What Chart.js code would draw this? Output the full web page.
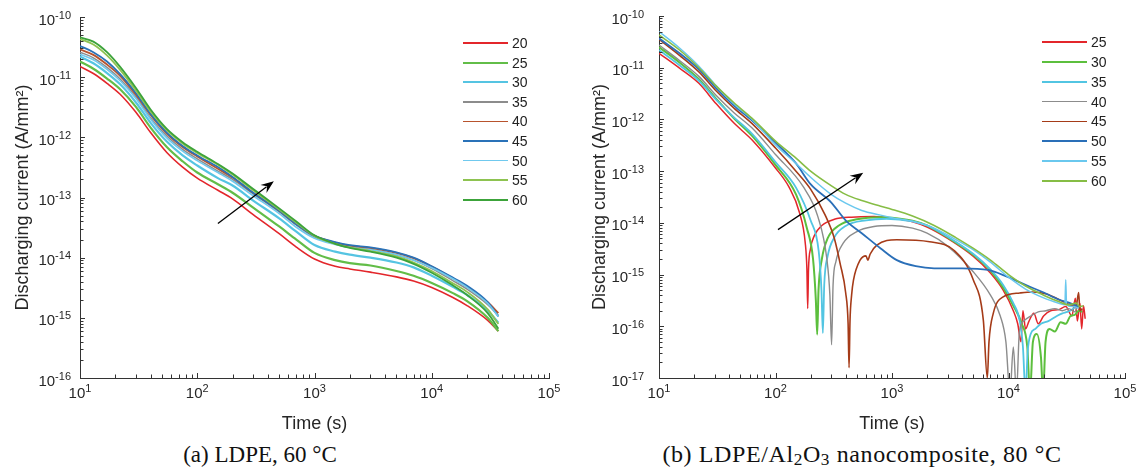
<!DOCTYPE html>
<html>
<head>
<meta charset="utf-8">
<script src="https://cdn.jsdelivr.net/npm/chart.js@4.4.1/dist/chart.umd.min.js"></script>
<style>
  html, body { margin: 0; padding: 0; background: #fff; }
  #fig { position: relative; width: 1141px; height: 472px; overflow: hidden; background: #fff; }
  canvas { position: absolute; top: 0; }
  .legend { position: absolute; font-family: 'Liberation Sans', Arial, sans-serif; font-size: 14px; color: #222; }
  .legend .row { position: absolute; left: 0; height: 16px; line-height: 16px; white-space: nowrap; }
  .legend .sw { position: absolute; left: 0; width: 45px; }
  .legend .tx { position: absolute; left: 49px; top: 0; }
  .caption { position: absolute; text-align: center; font-family: 'Liberation Serif', 'Times New Roman', serif; line-height: 24px; color: #111; white-space: nowrap; }
  .caption sub { font-size: 0.72em; vertical-align: -0.2em; line-height: 0; }
</style>
</head>
<body>
<div id="fig">
  <canvas id="chartA" width="570" height="440" style="left:0"></canvas>
  <canvas id="chartB" width="571" height="440" style="left:570px"></canvas>
  <div class="legend" id="legendA"></div>
  <div class="legend" id="legendB"></div>
  <div class="caption" style="left:0;width:520px;top:443px;font-size:23px">(a) LDPE, 60 °C</div>
  <div class="caption" style="left:600px;width:524px;top:442px;font-size:24px;letter-spacing:0.6px">(b) LDPE/Al<sub>2</sub>O<sub>3</sub> nanocomposite, 80 °C</div>
</div>
<script>
// ============================================================
// Courants de décharge — (a) LDPE 60 °C, (b) LDPE/Al2O3 80 °C
// ============================================================

const FONT = "'Liberation Sans', Arial, Helvetica, sans-serif";

// Axes (exposants des décades)
const timeTickExp = [1, 2, 3, 4, 5];
const ldpeTickExp = [-16, -15, -14, -13, -12, -11, -10];
const nanoTickExp = [-17, -16, -15, -14, -13, -12, -11, -10];

// ---- (a) LDPE : temps communs (s) et courants (A/mm²) ----
const ldpeTime = [10, 13, 17, 22, 30, 40, 55, 75, 100, 150, 200, 300, 500, 700, 1000, 1500, 2000, 3000, 5000, 7000, 10000, 15000, 20000, 30000, 37000];
const ldpeLabels = ['20', '25', '30', '35', '40', '45', '50', '55', '60'];
const ldpeColors = ['#e3262b', '#62bd48', '#55c4e2', '#8c8c8c', '#b8532d', '#2a72b8', '#70c9ee', '#8ec351', '#3ca33a'];
const ldpeWidths = [1.6, 2.2, 2.2, 1.5, 1.8, 1.8, 1.6, 1.8, 1.8];

const ldpe20 = [1.51e-11, 1.15e-11, 7.9e-12, 5.2e-12, 2.6e-12, 1.2e-12, 5.6e-13, 3.2e-13, 2.1e-13, 1.32e-13, 9.5e-14, 5.2e-14, 2.5e-14, 1.5e-14, 9.5e-15, 7.2e-15, 6.5e-15, 5.75e-15, 4.8e-15, 4.1e-15, 3.2e-15, 2.2e-15, 1.6e-15, 9.1e-16, 6.0e-16];
const ldpe25 = [1.82e-11, 1.38e-11, 9.5e-12, 6.3e-12, 3.2e-12, 1.45e-12, 6.9e-13, 4.0e-13, 2.6e-13, 1.66e-13, 1.2e-13, 6.8e-14, 3.3e-14, 2.0e-14, 1.2e-14, 9.1e-15, 8.1e-15, 7.4e-15, 6.0e-15, 5.0e-15, 3.8e-15, 2.6e-15, 1.9e-15, 1.0e-15, 6.0e-16];
const ldpe30 = [2.2e-11, 1.7e-11, 1.17e-11, 7.6e-12, 3.8e-12, 1.74e-12, 8.5e-13, 5.0e-13, 3.4e-13, 2.1e-13, 1.58e-13, 8.9e-14, 4.5e-14, 2.7e-14, 1.62e-14, 1.26e-14, 1.12e-14, 1.0e-14, 8.3e-15, 6.9e-15, 5.0e-15, 3.3e-15, 2.4e-15, 1.32e-15, 8.3e-16];
const ldpe35 = [2.6e-11, 2.1e-11, 1.45e-11, 9.3e-12, 4.7e-12, 2.1e-12, 1.05e-12, 6.3e-13, 4.4e-13, 2.75e-13, 2.0e-13, 1.15e-13, 5.75e-14, 3.5e-14, 2.2e-14, 1.7e-14, 1.5e-14, 1.38e-14, 1.12e-14, 9.1e-15, 6.6e-15, 4.2e-15, 3.0e-15, 1.66e-15, 1.1e-15];
const ldpe40 = [2.9e-11, 2.35e-11, 1.62e-11, 1.05e-11, 5.1e-12, 2.35e-12, 1.15e-12, 6.9e-13, 4.8e-13, 3.0e-13, 2.15e-13, 1.2e-13, 6.0e-14, 3.6e-14, 2.3e-14, 1.78e-14, 1.58e-14, 1.45e-14, 1.2e-14, 9.8e-15, 7.1e-15, 4.6e-15, 3.3e-15, 1.82e-15, 1.2e-15];
const ldpe45 = [3.3e-11, 2.6e-11, 1.82e-11, 1.12e-11, 5.4e-12, 2.45e-12, 1.2e-12, 7.2e-13, 5.0e-13, 3.2e-13, 2.2e-13, 1.2e-13, 6.0e-14, 3.6e-14, 2.3e-14, 1.82e-14, 1.62e-14, 1.48e-14, 1.23e-14, 1.0e-14, 7.2e-15, 4.7e-15, 3.4e-15, 1.82e-15, 1.05e-15];
const ldpe50 = [2.4e-11, 1.95e-11, 1.35e-11, 8.7e-12, 4.4e-12, 2.0e-12, 9.8e-13, 5.9e-13, 4.1e-13, 2.6e-13, 1.86e-13, 1.07e-13, 5.4e-14, 3.2e-14, 2.1e-14, 1.66e-14, 1.48e-14, 1.35e-14, 1.12e-14, 9.1e-15, 6.8e-15, 4.5e-15, 3.2e-15, 1.74e-15, 1.05e-15];
const ldpe55 = [4.3e-11, 3.5e-11, 2.3e-11, 1.32e-11, 6.0e-12, 2.7e-12, 1.32e-12, 7.9e-13, 5.5e-13, 3.5e-13, 2.4e-13, 1.32e-13, 6.3e-14, 3.8e-14, 2.3e-14, 1.7e-14, 1.48e-14, 1.29e-14, 1.05e-14, 8.3e-15, 6.0e-15, 3.8e-15, 2.7e-15, 1.38e-15, 7.9e-16];
const ldpe60 = [4.6e-11, 3.9e-11, 2.6e-11, 1.48e-11, 6.6e-12, 2.9e-12, 1.38e-12, 8.3e-13, 5.75e-13, 3.6e-13, 2.5e-13, 1.38e-13, 6.6e-14, 4.0e-14, 2.35e-14, 1.7e-14, 1.45e-14, 1.26e-14, 1.0e-14, 7.9e-15, 5.6e-15, 3.5e-15, 2.4e-15, 1.2e-15, 6.6e-16];
const ldpeCurrents = [ldpe20, ldpe25, ldpe30, ldpe35, ldpe40, ldpe45, ldpe50, ldpe55, ldpe60];

// ---- (b) LDPE/Al2O3 : chaque courbe a ses propres instants ----
const nanoLabels = ['25', '30', '35', '40', '45', '50', '55', '60'];
const nanoColors = ['#e3262b', '#5cbf3d', '#52c5e2', '#8c8c8c', '#a53b18', '#2a6fb8', '#6ac8ee', '#86bd45'];
const nanoWidths = [1.5, 2.0, 1.8, 1.4, 1.6, 1.8, 1.5, 1.6];

const nano25T = [10, 15, 22, 31, 44, 63, 100, 130, 161, 180, 186, 189, 192, 200, 215, 250, 320, 450, 700, 1000, 1500, 2000, 3000, 5000, 7000, 9000, 11000, 12000, 12800, 13300, 14000, 15000, 16500, 18000, 20000, 23000, 27000, 31000, 35000, 37500, 39000, 41000, 42500, 44000, 45500];
const nano25I = [1.9e-11, 9.8e-12, 5.0e-12, 2.0e-12, 8.5e-13, 4.0e-13, 1.15e-13, 5.0e-14, 1.55e-14, 4.1e-15, 1.26e-15, 2.2e-16, 1.26e-15, 3.2e-15, 5.6e-15, 8.9e-15, 1.17e-14, 1.29e-14, 1.32e-14, 1.23e-14, 1.05e-14, 8.3e-15, 5.0e-15, 2.24e-15, 1.07e-15, 5.0e-16, 2.0e-16, 1.12e-16, 5.0e-17, 2.0e-16, 8.9e-17, 1.26e-16, 1.78e-16, 1.12e-16, 1.58e-16, 2.0e-16, 2.1e-16, 2.4e-16, 1.58e-16, 3.5e-16, 1.26e-16, 2.8e-16, 8.9e-17, 2.5e-16, 1.4e-16];

const nano30T = [10, 15, 22, 31, 44, 63, 100, 150, 186, 210, 222, 228, 234, 250, 280, 350, 500, 800, 1000, 1500, 2000, 3000, 5000, 7000, 9000, 11000, 13000, 14500, 15300, 16200, 17500, 19000, 19800, 20800, 22500, 25000, 28000, 31000, 34000, 37000, 40000, 43000];
const nano30I = [2.5e-11, 1.26e-11, 6.0e-12, 2.5e-12, 1.05e-12, 4.8e-13, 1.32e-13, 3.55e-14, 7.9e-15, 2.0e-15, 3.2e-16, 6.9e-17, 5.0e-16, 2.0e-15, 5.0e-15, 8.9e-15, 1.17e-14, 1.29e-14, 1.26e-14, 1.1e-14, 8.9e-15, 5.25e-15, 2.4e-15, 1.2e-15, 5.6e-16, 2.5e-16, 1.12e-16, 4.0e-17, 5.0e-18, 5.0e-17, 7.1e-17, 2.5e-17, 5.0e-18, 5.0e-17, 8.9e-17, 7.9e-17, 1.2e-16, 1.12e-16, 1.58e-16, 1.66e-16, 2.0e-16, 1.9e-16];

const nano35T = [10, 15, 22, 31, 44, 63, 100, 150, 200, 235, 248, 255, 262, 280, 320, 400, 600, 900, 1500, 2000, 3000, 5000, 7000, 9000, 11000, 12500, 13300, 14000, 14600, 15500, 17000, 19000, 22000, 26000, 29000, 32000, 35000, 38000];
const nano35I = [2.2e-11, 1.12e-11, 5.6e-12, 2.4e-12, 1.1e-12, 5.25e-13, 1.5e-13, 4.8e-14, 1.12e-14, 2.8e-15, 5.0e-16, 7.4e-17, 6.3e-16, 2.24e-15, 5.25e-15, 8.7e-15, 1.12e-14, 1.2e-14, 1.07e-14, 8.9e-15, 5.4e-15, 2.5e-15, 1.26e-15, 6.3e-16, 2.8e-16, 1.26e-16, 4.0e-17, 5.0e-18, 3.2e-17, 7.1e-17, 8.9e-17, 1.12e-16, 1.26e-16, 1.58e-16, 1.78e-16, 1.9e-16, 2.1e-16, 2.4e-16];

const nano40T = [10, 15, 22, 31, 44, 63, 100, 173, 231, 276, 293, 303, 312, 330, 380, 500, 700, 1000, 1500, 2000, 3000, 5000, 7000, 8500, 9500, 10300, 11000, 11700, 12400, 13500, 15500, 18000, 21000, 25000, 29000, 33000, 37000, 39000];
const nano40I = [2.75e-11, 1.38e-11, 6.8e-12, 2.9e-12, 1.35e-12, 6.8e-13, 2.1e-13, 5.0e-14, 1.32e-14, 2.0e-15, 4.0e-16, 4.4e-17, 6.3e-16, 1.78e-15, 4.0e-15, 6.8e-15, 8.5e-15, 8.9e-15, 7.9e-15, 6.3e-15, 3.55e-15, 1.12e-15, 4.0e-16, 1.58e-16, 5.0e-17, 5.0e-18, 4.0e-17, 5.0e-18, 7.9e-17, 1.26e-16, 1.58e-16, 1.9e-16, 2.0e-16, 2.2e-16, 2.0e-16, 2.2e-16, 1.9e-16, 2.4e-16];

const nano45T = [10, 15, 22, 31, 44, 63, 100, 150, 200, 267, 320, 360, 400, 420, 428, 436, 450, 467, 532, 598, 620, 650, 741, 1100, 2100, 3400, 5000, 6080, 6580, 6800, 7400, 9000, 12500, 16000, 21200, 27000, 33600, 38000, 40000, 41000, 43000];
const nano45I = [3.55e-11, 1.74e-11, 8.3e-12, 3.55e-12, 1.66e-12, 8.3e-13, 2.8e-13, 1.0e-13, 4.5e-14, 1.41e-14, 5.0e-15, 1.58e-15, 4.5e-16, 1.12e-16, 1.58e-17, 1.26e-16, 4.0e-16, 7.8e-16, 1.9e-15, 2.3e-15, 1.9e-15, 2.5e-15, 3.7e-15, 4.7e-15, 4.3e-15, 2.95e-15, 7.8e-16, 1.32e-16, 1.0e-17, 5.0e-17, 1.78e-16, 3.7e-16, 4.4e-16, 4.6e-16, 4.2e-16, 3.3e-16, 2.6e-16, 2.4e-16, 4.5e-16, 2.0e-16, 2.2e-16];

const nano50T = [10, 15, 22, 31, 44, 63, 100, 150, 200, 300, 400, 550, 800, 1100, 1600, 2300, 4000, 6700, 9700, 14000, 19600, 27000, 34600, 40000];
const nano50I = [3.7e-11, 1.9e-11, 9.3e-12, 4.0e-12, 1.86e-12, 9.5e-13, 3.55e-13, 1.41e-13, 5.6e-14, 2.5e-14, 1.12e-14, 6.3e-15, 3.2e-15, 1.9e-15, 1.45e-15, 1.32e-15, 1.32e-15, 1.23e-15, 9.1e-16, 6.3e-16, 4.6e-16, 3.3e-16, 2.75e-16, 2.4e-16];

const nano55T = [10, 15, 22, 31, 44, 63, 100, 150, 200, 300, 400, 550, 800, 1000, 1500, 2300, 3500, 5000, 7000, 10000, 14000, 20000, 27000, 30500, 31000, 31500, 36000, 40000];
const nano55I = [5.0e-11, 2.4e-11, 1.07e-11, 4.5e-12, 2.0e-12, 1.0e-12, 3.2e-13, 1.41e-13, 7.6e-14, 3.55e-14, 2.4e-14, 1.74e-14, 1.41e-14, 1.26e-14, 1.07e-14, 7.9e-15, 4.8e-15, 3.0e-15, 1.74e-15, 8.9e-16, 5.25e-16, 3.55e-16, 2.8e-16, 2.6e-16, 7.9e-16, 2.6e-16, 2.4e-16, 2.24e-16];

const nano60T = [10, 15, 22, 31, 44, 63, 100, 150, 200, 300, 400, 550, 800, 1000, 1500, 2300, 3500, 5000, 7000, 10000, 14000, 20000, 27000, 33000, 38000, 41000, 44000];
const nano60I = [4.3e-11, 2.2e-11, 1.0e-11, 4.4e-12, 2.1e-12, 1.05e-12, 3.8e-13, 1.78e-13, 1.0e-13, 5.25e-14, 3.55e-14, 2.7e-14, 2.1e-14, 1.82e-14, 1.35e-14, 8.9e-15, 5.25e-15, 3.2e-15, 1.9e-15, 1.0e-15, 6.0e-16, 4.0e-16, 3.0e-16, 2.6e-16, 2.8e-16, 2.4e-16, 2.5e-16];

const nanoTimes = [nano25T, nano30T, nano35T, nano40T, nano45T, nano50T, nano55T, nano60T];
const nanoCurrents = [nano25I, nano30I, nano35I, nano40I, nano45I, nano50I, nano55I, nano60I];

// Flèches (sens de l'augmentation), en coordonnées de données
const arrowA = { from: [150, 3.7e-14], to: [450, 1.86e-13] };
const arrowB = { from: [105, 7.4e-15], to: [566, 9.3e-14] };

// ------------------------------------------------------------
// Axes façon MATLAB : ticks vers l'intérieur, labels 10^n
// ------------------------------------------------------------
function decadeSteps(exps) {
  const out = [];
  exps.forEach((e, i) => {
    out.push([Math.pow(10, e), true]);
    if (i < exps.length - 1) {
      for (let k = 2; k <= 9; k++) out.push([k * Math.pow(10, e), false]);
    }
  });
  return out;
}

const matlabAxes = {
  id: 'matlabAxes',
  afterDraw(chart, args, o) {
    const { ctx, chartArea: a, scales: { x, y } } = chart;
    ctx.save();

    // tick marks
    ctx.strokeStyle = '#333';
    ctx.lineWidth = 1;
    ctx.beginPath();
    decadeSteps(o.xExp).forEach(([v, major]) => {
      const px = Math.round(x.getPixelForValue(v)) + 0.5;
      ctx.moveTo(px, a.bottom);
      ctx.lineTo(px, a.bottom - (major ? 5 : 3.5));
    });
    decadeSteps(o.yExp).forEach(([v, major]) => {
      const py = Math.round(y.getPixelForValue(v)) + 0.5;
      ctx.moveTo(a.left, py);
      ctx.lineTo(a.left + (major ? 5 : 3.5), py);
    });
    ctx.stroke();

    // tick labels
    ctx.fillStyle = '#262626';
    ctx.textBaseline = 'alphabetic';
    ctx.textAlign = 'left';
    o.xExp.forEach(e => {
      const px = x.getPixelForValue(Math.pow(10, e));
      ctx.font = `15px ${FONT}`;
      const wb = ctx.measureText('10').width;
      ctx.font = `11px ${FONT}`;
      const we = ctx.measureText(String(e)).width;
      const x0 = px - (wb + we) / 2;
      ctx.font = `15px ${FONT}`;
      ctx.fillText('10', x0, a.bottom + 20);
      ctx.font = `11px ${FONT}`;
      ctx.fillText(String(e), x0 + wb, a.bottom + 14);
    });
    ctx.textAlign = 'right';
    o.yExp.forEach(e => {
      const py = y.getPixelForValue(Math.pow(10, e));
      const r = a.left - o.yGap;
      ctx.font = `11px ${FONT}`;
      const we = ctx.measureText(String(e)).width;
      ctx.fillText(String(e), r, py + 1.5);
      ctx.font = `15px ${FONT}`;
      ctx.fillText('10', r - we, py + 7.5);
    });

    // arrow
    const ax0 = x.getPixelForValue(o.arrow.from[0]), ay0 = y.getPixelForValue(o.arrow.from[1]);
    const ax1 = x.getPixelForValue(o.arrow.to[0]),   ay1 = y.getPixelForValue(o.arrow.to[1]);
    const ang = Math.atan2(ay1 - ay0, ax1 - ax0);
    const c = Math.cos(ang), s = Math.sin(ang);
    const hl = 13, hw = 5;
    ctx.strokeStyle = '#000';
    ctx.fillStyle = '#000';
    ctx.lineWidth = 1.3;
    ctx.beginPath();
    ctx.moveTo(ax0, ay0);
    ctx.lineTo(ax1 - hl * 0.7 * c, ay1 - hl * 0.7 * s);
    ctx.stroke();
    ctx.beginPath();
    ctx.moveTo(ax1, ay1);
    ctx.lineTo(ax1 - hl * c - hw * s, ay1 - hl * s + hw * c);
    ctx.lineTo(ax1 - hl * 0.65 * c, ay1 - hl * 0.65 * s);
    ctx.lineTo(ax1 - hl * c + hw * s, ay1 - hl * s - hw * c);
    ctx.closePath();
    ctx.fill();

    ctx.restore();
  }
};

function lineSet(label, color, width, points, order) {
  return {
    label, data: points, order,
    borderColor: color, borderWidth: width,
    pointRadius: 0, fill: false, clip: 0,
    cubicInterpolationMode: 'monotone',
  };
}

function makeChart(id, datasets, o) {
  const titleFont = { family: FONT, size: 18 };
  return new Chart(document.getElementById(id), {
    type: 'line',
    data: { datasets },
    options: {
      responsive: false, animation: false, events: [],
      layout: { padding: o.pad },
      plugins: { legend: { display: false }, tooltip: { enabled: false }, matlabAxes: o },
      scales: {
        x: {
          type: 'logarithmic', min: 10, max: 1e5,
          ticks: { display: false },
          grid: { display: false, drawTicks: false },
          border: { display: true, color: '#333', width: 1 },
          title: { display: true, text: 'Time (s)', color: '#262626', font: titleFont, padding: { top: 35.2, bottom: 4 } },
        },
        y: {
          type: 'logarithmic', min: o.yMin, max: 1e-10,
          ticks: { display: false },
          grid: { display: false, drawTicks: false },
          border: { display: true, color: '#333', width: 1 },
          title: { display: true, text: 'Discharging current (A/mm²)', color: '#262626', font: titleFont, padding: { top: o.titleTop, bottom: o.titleBottom } },
        },
      },
    },
    plugins: [matlabAxes],
  });
}

function buildLegend(id, labels, colors, widths, box) {
  const el = document.getElementById(id);
  el.style.left = box.left + 'px';
  el.style.top = box.top + 'px';
  el.innerHTML = labels.map((lb, i) =>
    `<div class="row" style="top:${(i * box.step - 8).toFixed(1)}px">
       <span class="sw" style="top:${(8 - widths[i] / 2).toFixed(1)}px;height:${widths[i]}px;background:${colors[i]}"></span>
       <span class="tx">${lb}</span>
     </div>`
  ).join('');
}

// (a)
const setsA = ldpeCurrents.map((arr, k) =>
  lineSet(ldpeLabels[k], ldpeColors[k], ldpeWidths[k], ldpeTime.map((t, i) => ({ x: t, y: arr[i] })), ldpeCurrents.length - k));
makeChart('chartA', setsA, {
  pad: { left: 0, top: 17, right: 21, bottom: 1.2 },
  yMin: 1e-16, titleTop: 12.2, titleBottom: 46.2, yGap: 9,
  xExp: timeTickExp, yExp: ldpeTickExp, arrow: arrowA,
});
buildLegend('legendA', ldpeLabels, ldpeColors, ldpeWidths, { left: 463, top: 43.3, step: 19.55 });

// (b)
const setsB = nanoCurrents.map((arr, k) =>
  lineSet(nanoLabels[k], nanoColors[k], nanoWidths[k], nanoTimes[k].map((t, i) => ({ x: t, y: arr[i] })), nanoCurrents.length - k));
makeChart('chartB', setsB, {
  pad: { left: 0, top: 16, right: 16, bottom: 1.2 },
  yMin: 1e-17, titleTop: 19.2, titleBottom: 48.2, yGap: 15,
  xExp: timeTickExp, yExp: nanoTickExp, arrow: arrowB,
});
buildLegend('legendB', nanoLabels, nanoColors, [1.6, 2.4, 2.0, 1.5, 1.8, 2.4, 1.8, 1.8], { left: 1042, top: 42.3, step: 19.8 });
</script>
</body>
</html>
